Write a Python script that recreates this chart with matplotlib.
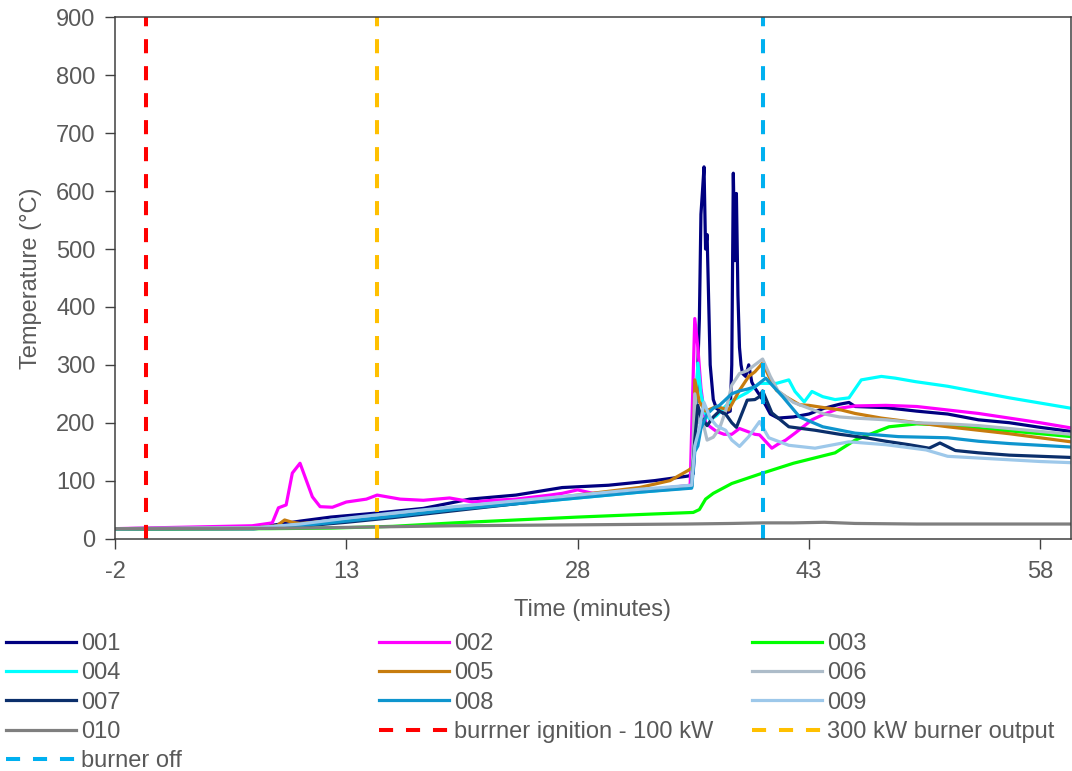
import matplotlib
matplotlib.use("Agg")
import matplotlib.pyplot as plt

# Thermocouple readings (time in minutes, temperature in degC)
t_001 = [-2, 6, 8, 10, 12, 15, 18, 21, 24, 27, 30, 33, 35.2, 35.5, 35.7, 35.9, 36.0, 36.1, 36.2, 36.3,
         36.4, 36.5, 36.6, 36.8, 37.0, 37.5, 37.9, 38.0, 38.1, 38.2, 38.3, 38.4, 38.5, 38.6, 38.7, 38.9,
         39.1, 39.3, 39.5, 40.0, 40.5, 41.0, 42, 43, 44, 45, 45.6, 46, 48, 50, 52, 54, 56, 58, 60]
T_001 = [17, 18, 22, 30, 37, 44, 52, 68, 75, 88, 92, 100, 108, 112, 220, 380, 560, 600, 642, 500,
         525, 412, 300, 240, 225, 215, 220, 300, 631, 480, 596, 420, 330, 300, 285, 280,
         300, 270, 260, 240, 215, 208, 210, 215, 225, 232, 235, 228, 226, 220, 215, 205, 200, 192, 185]

t_002 = [-2, 6.9, 8.2, 8.6, 9.1, 9.5, 10.0, 10.4, 10.8, 11.3, 12.1, 13, 14.3, 15, 16.5, 18, 19.7, 21.2,
         22.5, 24, 26.2, 27, 28, 29, 30, 33, 35.3, 35.6, 35.8, 36.0, 36.3, 36.6, 37, 37.5, 38, 38.5,
         39, 39.5, 39.8, 40.6, 41, 41.5, 42.1, 43.2, 44, 45, 46, 48, 50, 52, 54, 56, 58, 60]
T_002 = [17, 22, 27, 53, 58, 113, 130, 101, 72, 55, 54, 63, 68, 75, 68, 66, 70, 63,
         66, 68, 75, 78, 84, 78, 80, 85, 92, 380, 330, 260, 200, 193, 185, 180, 180, 190,
         185, 180, 179, 156, 163, 170, 182, 205, 215, 225, 229, 230, 228, 222, 216, 208, 200, 191]

t_003 = [-2, 8, 12, 16, 20, 24, 28, 32.6, 35.5, 35.9, 36.3, 36.8, 38, 40, 42, 44.7, 46, 48.2, 50, 52,
         54, 56, 58, 60]
T_003 = [16, 17, 18, 21, 27, 32, 37, 42, 45, 50, 68, 78, 95, 113, 130, 148, 170, 193, 198, 196,
         190, 186, 181, 176]

t_004 = [-2, 7, 10, 13, 16, 20, 24, 28, 32, 35.4, 35.6, 35.8, 36.0, 36.3, 36.6, 37, 37.8, 38.5, 39,
         39.8, 40.9, 41.7, 42.1, 42.7, 43.2, 43.9, 44.7, 45.6, 46.4, 47.7, 48.6, 49.9, 52, 54, 56, 58, 60]
T_004 = [17, 18, 24, 32, 40, 50, 60, 70, 80, 88, 200, 303, 250, 215, 205, 212, 234, 245, 252,
         268, 268, 274, 254, 236, 254, 245, 240, 243, 274, 280, 277, 271, 263, 253, 243, 234, 225]

t_005 = [-2, 7, 8.5, 9.0, 9.5, 10, 13, 16, 20, 24, 28, 32, 34, 35.2, 35.5, 35.6, 35.9, 36.3, 37,
         37.8, 38.5, 39.1, 39.5, 40.0, 40.5, 40.9, 41.5, 42.4, 43, 44, 45.1, 46, 47.7, 50, 52, 54,
         56, 58, 60]
T_005 = [17, 18, 22, 32, 28, 26, 33, 42, 52, 62, 75, 88, 100, 118, 124, 274, 236, 220, 228,
         222, 256, 280, 288, 303, 275, 256, 245, 231, 230, 226, 222, 216, 208, 200, 193, 187,
         181, 174, 167]

t_006 = [-2, 7, 10, 13, 16, 20, 24, 28, 32, 35.4, 35.6, 35.8, 36.0, 36.4, 36.8, 37.2, 37.6, 38.0,
         38.5, 39.0, 39.5, 40.0, 40.5, 41.0, 41.5, 42, 43, 44, 45, 46, 48, 50, 52, 54, 56, 58, 60]
T_006 = [17, 18, 24, 34, 42, 52, 62, 72, 82, 92, 250, 200, 215, 170, 175, 190, 220, 265,
         285, 290, 300, 310, 280, 255, 245, 235, 225, 215, 210, 208, 205, 200, 198, 195, 190, 185, 180]

t_007 = [-2, 7, 10, 13, 16, 20, 24, 28, 32, 35.4, 35.6, 35.8, 36.0, 36.4, 36.8, 37.2, 37.6, 38,
         38.3, 39, 39.5, 39.8, 40.0, 40.6, 41.7, 43.4, 45, 46.7, 48, 49.5, 50.8, 51.5, 52.5, 54,
         56, 58, 60]
T_007 = [17, 17, 21, 28, 36, 48, 60, 72, 82, 90, 170, 230, 210, 195, 210, 220, 215, 200,
         192, 239, 240, 245, 255, 217, 193, 187, 180, 174, 168, 162, 156, 165, 152, 148,
         144, 142, 140]

t_008 = [-2, 7, 10, 13, 16, 20, 24, 28, 32, 35.4, 35.6, 35.8, 36.0, 36.4, 36.8, 37.2, 37.6, 38,
         38.5, 39, 39.5, 40.2, 41.3, 42.4, 43.9, 46, 48.8, 52, 54, 56, 58, 60]
T_008 = [17, 17, 22, 30, 38, 50, 60, 70, 80, 87, 150, 160, 190, 215, 225, 230, 240, 250,
         255, 258, 262, 277, 245, 210, 193, 182, 176, 174, 168, 164, 161, 158]

t_009 = [-2, 7, 10, 13, 16, 20, 24, 28, 32, 35.4, 35.6, 35.9, 36.2, 36.6, 37.0, 37.6, 38.0, 38.5,
         39.1, 39.8, 40.4, 41.7, 43.4, 45.6, 48, 50.6, 52, 54, 56, 58, 60]
T_009 = [17, 18, 25, 35, 44, 55, 65, 75, 85, 92, 160, 190, 235, 208, 195, 187, 170, 159,
         176, 202, 174, 161, 156, 167, 162, 153, 142, 139, 136, 133, 131]

t_010 = [-2, 5, 10, 15, 20, 25, 30, 35, 38, 40, 42, 44, 46, 50, 55, 60]
T_010 = [17, 17, 18, 20, 22, 23, 24, 25, 26, 27, 27, 28, 26, 25, 25, 25]

series_names = ["001", "002", "003", "004", "005", "006", "007", "008", "009", "010"]
series_t = [t_001, t_002, t_003, t_004, t_005, t_006, t_007, t_008, t_009, t_010]
series_T = [T_001, T_002, T_003, T_004, T_005, T_006, T_007, T_008, T_009, T_010]
series_colors = ["#000080", "#FF00FF", "#00FF00", "#00FFFF", "#C77C0E",
                 "#ADBCC9", "#0B2F6B", "#0E95CE", "#9DC8EA", "#7F7F7F"]

# Event markers (minutes)
event_names = ["burrner ignition - 100 kW", "300 kW burner output", "burner off"]
event_times = [0, 15, 40]
event_colors = ["#FF0000", "#FFC000", "#00B0F0"]

TEXT = "#595959"
FS = 17
plt.rcParams["font.family"] = ["Liberation Sans", "DejaVu Sans"]
plt.rcParams["font.size"] = FS
plt.rcParams["axes.unicode_minus"] = False

W, H = 1072, 771
fig = plt.figure(figsize=(W / 100, H / 100), dpi=100)
ax = fig.add_axes([115 / W, 1 - 538.5 / H, (1071 - 115) / W, (538.5 - 17.5) / H])

lines = {}
for name, t, T, c in zip(series_names, series_t, series_T, series_colors):
    ln, = ax.plot(t, T, color=c, lw=2.3, solid_joinstyle="round", label=name)
    lines[name] = ln

for name, x, c in zip(event_names, event_times, event_colors):
    ln, = ax.plot([x, x], [0, 900], color=c, lw=2.9, ls=(0, (3.5, 3.2)), label=name)
    lines[name] = ln

ax.set_xlim(-2, 60)
ax.set_ylim(0, 900)
ax.set_xticks([-2, 13, 28, 43, 58])
ax.set_yticks(range(0, 901, 100))
ax.tick_params(direction="out", length=7, width=1, color="#404040", labelcolor=TEXT, labelsize=FS)
ax.tick_params(axis="y", pad=7)
ax.tick_params(axis="x", pad=9)
for s in ax.spines.values():
    s.set_color("#404040")
    s.set_linewidth(1.1)

ax.set_xlabel("Time (minutes)", color=TEXT, fontsize=FS, labelpad=12)
ax.set_ylabel("Temperature (°C)", color=TEXT, fontsize=FS, labelpad=10)

# Excel-style legend: row-major in three fixed columns
cols = [["001", "004", "007", "010", "burner off"],
        ["002", "005", "008", "burrner ignition - 100 kW"],
        ["003", "006", "009", "300 kW burner output"]]
col_x = [6, 379, 752]
for names, x0 in zip(cols, col_x):
    fig.legend([lines[n] for n in names], names, loc="upper left",
               bbox_to_anchor=(x0 / W, 1 - 633 / H), frameon=False, borderpad=0,
               borderaxespad=0, handlelength=2.97, handletextpad=0.22,
               labelspacing=0.31, labelcolor=TEXT, fontsize=FS)

fig.savefig("out.png", dpi=100)
